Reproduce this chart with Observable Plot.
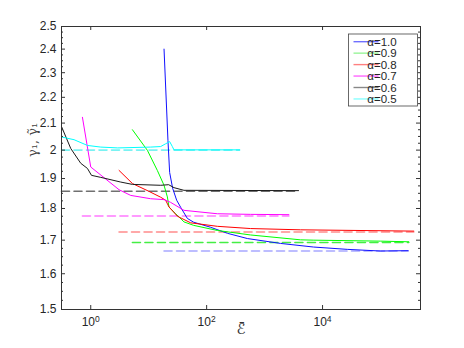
<!DOCTYPE html>
<html><head><meta charset="utf-8">
<script src="https://cdn.jsdelivr.net/npm/d3@7"></script>
<script src="https://cdn.jsdelivr.net/npm/@observablehq/plot@0.6"></script>
<style>body{margin:0;background:#fff}</style>
</head><body><div id="chart"></div>
<script>
// series labels and colours
const alphas = ["1.0", "0.9", "0.8", "0.7", "0.6", "0.5"];
const lineColors = ["#1010ff", "#00ff00", "#ff0000", "#ff00ff", "#1a1a1a", "#00ffff"];
const dashColors = ["#a8a8ff", "#44ee44", "#ff8c8c", "#ff7aff", "#707070", "#7af2f2"];
const legendColors = ["#7070ff", "#99f599", "#ff8080", "#ff66ff", "#888888", "#88ffff"];

// alpha = 1.0
const E_10 = [18.4, 21.5, 23.0, 25.9, 30.4, 35.6, 46.5, 59.7, 117, 230, 504, 1888, 7000, 26700, 100000, 300000];
const g_10 = [2.40, 2.035, 1.921, 1.867, 1.827, 1.804, 1.768, 1.756, 1.740, 1.721, 1.705, 1.690, 1.679, 1.672, 1.667, 1.668];
// alpha = 0.9
const E_09 = [5.24, 9.51, 14.1, 18.4, 21.0, 22.4, 29.2, 40.6, 59.7, 153, 574, 4178, 7080, 100000, 307600];
const g_09 = [2.075, 1.999, 1.928, 1.877, 1.838, 1.805, 1.783, 1.757, 1.746, 1.730, 1.716, 1.701, 1.700, 1.697, 1.695];
// alpha = 0.8
const E_08 = [3.08, 5.24, 10, 16.1, 19.6, 22.4, 31.3, 53.0, 153, 574, 4178, 375000];
const g_08 = [1.928, 1.883, 1.857, 1.837, 1.827, 1.805, 1.775, 1.754, 1.743, 1.736, 1.732, 1.728];
// alpha = 0.7
const E_07 = [0.719, 1.0, 3.08, 4.90, 10.8, 18.4, 23.9, 40.6, 153, 574, 2624];
const g_07 = [2.122, 1.940, 1.862, 1.843, 1.832, 1.829, 1.820, 1.794, 1.783, 1.781, 1.780];
// alpha = 0.6
const E_06 = [0.313, 0.452, 0.673, 0.877, 1.03, 1.49, 3.29, 5.24, 16.1, 22.1, 27.3, 40.6, 3855];
const g_06 = [2.087, 2.006, 1.953, 1.935, 1.911, 1.904, 1.888, 1.880, 1.877, 1.879, 1.869, 1.860, 1.859];
// alpha = 0.5
const E_05 = [0.313, 0.515, 0.877, 1.49, 2.92, 10.8, 16.1, 19.6, 23.0, 25.6, 27.3, 371];
const g_05 = [2.048, 2.038, 2.017, 2.011, 2.008, 2.011, 2.013, 2.023, 2.031, 2.013, 2.001, 2.001];

// limiting values (dashed)
const limits = [1.667, 1.693, 1.725, 1.776, 1.857, 2.0];

// axes
const xDomain = [0.313, 490000];
const yDomain = [1.5, 2.5];
const xTicks = [1, 100, 10000];
const yTicks = [1.5, 1.6, 1.7, 1.8, 1.9, 2.0, 2.1, 2.2, 2.3, 2.4, 2.5];
const yMinorTicks = [1.525,1.55,1.575,1.625,1.65,1.675,1.725,1.75,1.775,1.825,1.85,1.875,1.925,1.95,1.975,2.025,2.05,2.075,2.125,2.15,2.175,2.225,2.25,2.275,2.325,2.35,2.375,2.425,2.45,2.475];
const xLabel = "\u2130\u0304";
const yLabel = "\u03b3\u2081, \u03b3\u0303\u2081";

const Es = [E_10, E_09, E_08, E_07, E_06, E_05];
const Gs = [g_10, g_09, g_08, g_07, g_06, g_05];

const W = 464, H = 348, mL = 61, mR = 44, mT = 26, mB = 39;
const innerW = W - mL - mR, innerH = H - mT - mB;
const axisColor = "#333333";

const marks = [];
alphas.forEach((a, i) => {
  const E = Es[i];
  const dash = [{E: d3.min(E), g: limits[i]}, {E: d3.max(E), g: limits[i]}];
  marks.push(Plot.line(dash, {x: "E", y: "g", stroke: dashColors[i], strokeWidth: 1.6, strokeDasharray: "8,4.5"}));
});
alphas.forEach((a, i) => {
  const rows = Es[i].map((e, j) => ({E: e, g: Gs[i][j]}));
  marks.push(Plot.line(rows, {x: "E", y: "g", stroke: lineColors[i], strokeWidth: 1}));
});

const plot = Plot.plot({
  width: W, height: H,
  marginLeft: mL, marginRight: mR, marginTop: mT, marginBottom: mB,
  style: {fontFamily: "'Liberation Sans', Arial, sans-serif", fontSize: "12px", color: "#262626", background: "#fff"},
  x: {type: "log", domain: xDomain, axis: null},
  y: {type: "log", domain: yDomain, axis: null},
  marks: [
    ...marks,
    Plot.frame({stroke: axisColor, strokeWidth: 1}),
    Plot.axisX({ticks: xTicks, tickSize: 0, tickPadding: 8, tickFormat: d => String(Math.round(Math.log10(d))), anchor: "bottom", label: null}),
    Plot.axisY({ticks: yTicks, tickSize: 0, tickPadding: 5, tickFormat: d => String(+d.toFixed(1)), anchor: "left", label: null}),
    Plot.tickY(yTicks, {y: d => d, insetRight: innerW - 4, stroke: axisColor}),
    Plot.tickY(yTicks, {y: d => d, insetLeft: innerW - 4, stroke: axisColor}),
    Plot.tickY(yMinorTicks, {y: d => d, insetRight: innerW - 2, stroke: axisColor}),
    Plot.tickY(yMinorTicks, {y: d => d, insetLeft: innerW - 2, stroke: axisColor}),
    Plot.tickX(xTicks, {x: d => d, insetTop: innerH - 4, stroke: axisColor}),
    Plot.tickX(xTicks, {x: d => d, insetBottom: innerH - 4, stroke: axisColor}),
    Plot.text([yLabel], {frameAnchor: "left", text: d => d, rotate: -90, dx: -29, dy: -11, fontSize: 13, fill: "#444", fontFamily: "'DejaVu Serif', serif"}),
    Plot.text([xLabel], {frameAnchor: "bottom", text: d => d, dy: 20, fontSize: 15, fill: "#333", lineAnchor: "middle", fontFamily: "'DejaVu Sans', sans-serif"})
  ]
});

// superscript exponents on x tick labels
const ns = "http://www.w3.org/2000/svg";
plot.querySelectorAll('g[aria-label="x-axis tick label"] text').forEach(t => {
  const exp = t.textContent;
  t.textContent = "10";
  const ts = document.createElementNS(ns, "tspan");
  ts.setAttribute("dy", "-0.5em");
  ts.setAttribute("font-size", "8.5");
  ts.textContent = exp;
  t.appendChild(ts);
});

// legend
const svg = d3.select(plot);
const lg = svg.append("g").attr("transform", "translate(348.5,34)");
lg.append("rect").attr("width", 69).attr("height", 72).attr("fill", "#fff").attr("stroke", "#444").attr("stroke-width", 0.8);
alphas.forEach((a, i) => {
  const y = 7.7 + i * 11.45;
  lg.append("line").attr("x1", 5).attr("x2", 30).attr("y1", y).attr("y2", y)
    .attr("stroke", legendColors[i]).attr("stroke-width", 1.4);
  lg.append("text").attr("x", 33.5).attr("y", y).attr("dy", "0.35em")
    .attr("font-size", 11.5).attr("fill", "#262626").text("\u03b1=" + a);
});

document.getElementById("chart").appendChild(plot);
</script>
</body></html>
